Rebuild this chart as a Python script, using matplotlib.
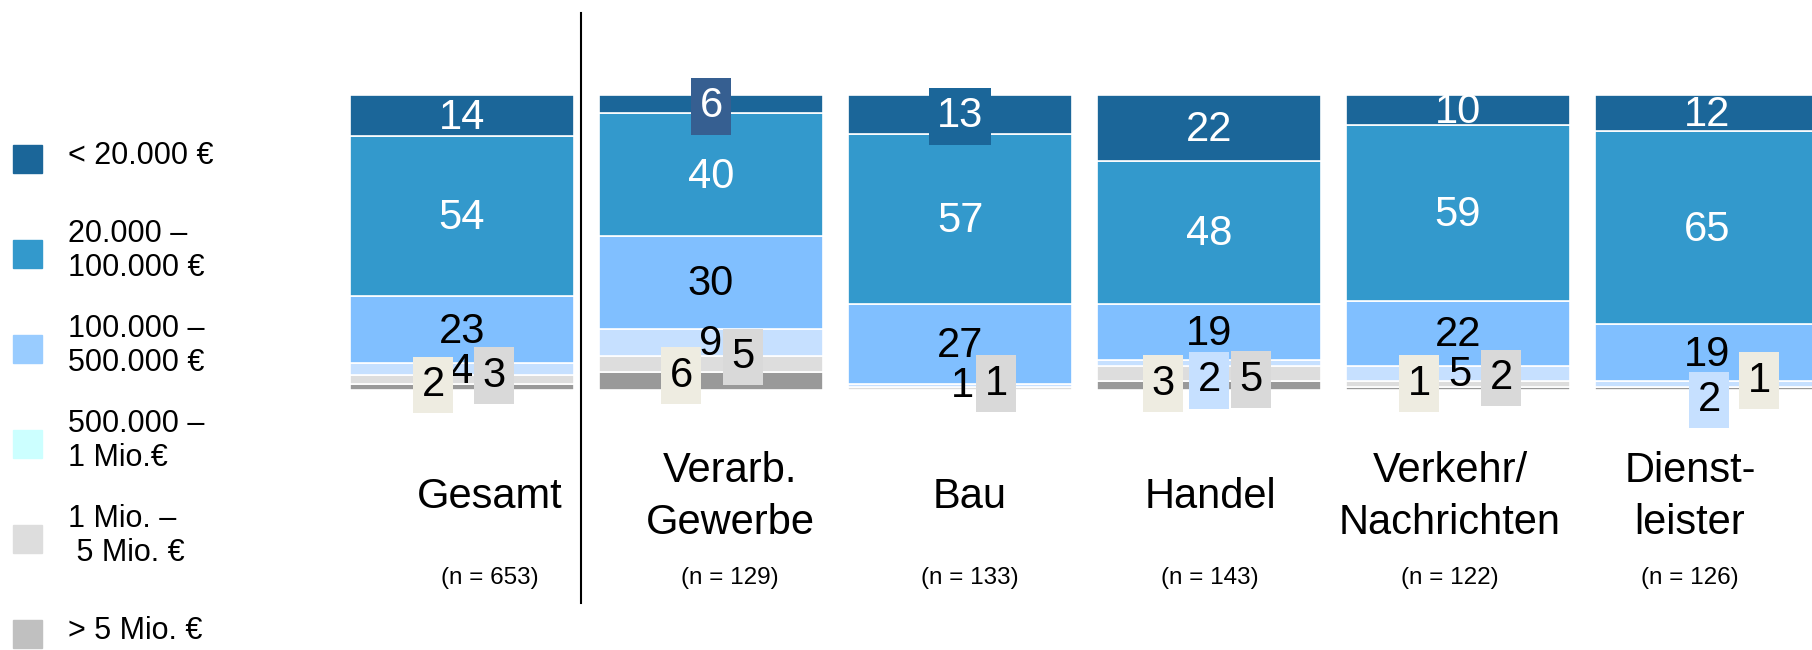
import matplotlib
matplotlib.use("Agg")
import matplotlib.pyplot as plt
from matplotlib.patches import Rectangle
import numpy as np

plt.rcParams['font.family'] = ['Liberation Sans', 'DejaVu Sans']

categories = ["Gesamt", "Verarb.\nGewerbe", "Bau", "Handel",
              "Verkehr/\nNachrichten", "Dienst-\nleister"]
n_values = [653, 129, 133, 143, 122, 126]
classes = ["< 20.000 €", "20.000 –\n100.000 €", "100.000 –\n500.000 €",
           "500.000 –\n1 Mio.€", "1 Mio. –\n 5 Mio. €", "> 5 Mio. €"]

# shares in %, one list per turnover class (top of the bar first)
under_20k = [14, 6, 13, 22, 10, 12]
k20_100k = [54, 40, 57, 48, 59, 65]
k100_500k = [23, 30, 27, 19, 22, 19]
k500_1m = [4, 9, 1, 2, 5, 2]
m1_5 = [3, 5, 1, 5, 2, 0]
over_5m = [2, 6, 0, 3, 1, 1]

series = [under_20k, k20_100k, k100_500k, k500_1m, m1_5, over_5m]

bar_colors = ['#1B6699', '#3399CC', '#80BFFF', '#C6E0FF', '#DDDDDD', '#999999']
legend_colors = ['#1B6699', '#3399CC', '#99CCFF', '#CCFFFF', '#DDDDDD', '#C0C0C0']
text_colors = ['white', 'white', 'black', 'black', 'black', 'black']

# hand placement of the small labels (category, class): (dx px, dy px down)
nudge = {
    (0, 3): (0, 1), (0, 4): (32, -6), (0, 5): (-29, -4),
    (1, 4): (32, -9), (1, 5): (-30, -7),
    (2, 3): (2, -2), (2, 4): (36, -7),
    (3, 3): (0, 15), (3, 4): (42, 4), (3, 5): (-46, -4),
    (4, 3): (2, -1), (4, 4): (43, -8), (4, 5): (-39, -7),
    (5, 3): (2, 14), (5, 5): (52, -10),
}
boxes = {(1, 0): '#365F91', (2, 0): '#1B6699', (3, 3): '#C6E0FF', (5, 3): '#C6E0FF'}
for i in range(len(categories)):
    boxes[(i, 4)] = '#D9D9D9'
    boxes[(i, 5)] = '#EEECE1'

W, H = 1812, 650
fig = plt.figure(figsize=(W / 100, H / 100), dpi=100)
ax = fig.add_axes([0, 0, 1, 1])
pitch = 249.0
ax.set_xlim(-462 / pitch, (W - 462) / pitch)
ppu = 2.95
ax.set_ylim(-260 / ppu, (H - 260) / ppu)
ax.axis('off')

vals = np.array(series, dtype=float)
shares = vals / vals.sum(axis=0) * 100
x = np.arange(len(categories))
bottom = np.zeros(len(categories))
centers = {}
for k in range(len(series) - 1, -1, -1):
    ax.bar(x, shares[k], width=224 / pitch, bottom=bottom, color=bar_colors[k],
           edgecolor='white', linewidth=1.2)
    centers[k] = bottom + shares[k] / 2
    bottom = bottom + shares[k]

for k in range(len(series)):
    for i in range(len(categories)):
        v = series[k][i]
        if v == 0:
            continue
        dx, dy = nudge.get((i, k), (0, 0))
        bbox = None
        if (i, k) in boxes:
            bbox = dict(boxstyle='square,pad=0.2', fc=boxes[(i, k)], ec='none')
        ax.annotate(str(v), (x[i], centers[k][i]),
                    xytext=(dx * 0.72, -(dy + 2) * 0.72), textcoords='offset points',
                    ha='center', va='center', fontsize=30, color=text_colors[k],
                    bbox=bbox, zorder=4)

# category names and sample sizes
for i, (cat, n) in enumerate(zip(categories, n_values)):
    lx = (28 + 240 * i) / pitch
    ax.text(lx, (153 - 260) / ppu, cat, ha='center', va='center',
            fontsize=30, linespacing=1.38)
    ax.text(lx, (72 - 260) / ppu, f"(n = {n})", ha='center', va='center', fontsize=17.5)

# separator between total and sectors
ax.axvline(119 / pitch, ymin=47 / H, ymax=637 / H, color='black', lw=1.5)

# legend
for j, (lab, col) in enumerate(zip(classes, legend_colors)):
    yc = 156 + 95 * j
    fig.patches.append(Rectangle((13 / W, 1 - (yc + 17) / H), 29 / W, 28 / H,
                                 transform=fig.transFigure, color=col))
    fig.text(68 / W, 1 - yc / H, lab, ha='left', va='center', fontsize=22,
             linespacing=1.15)

fig.savefig("out.png", dpi=100)
